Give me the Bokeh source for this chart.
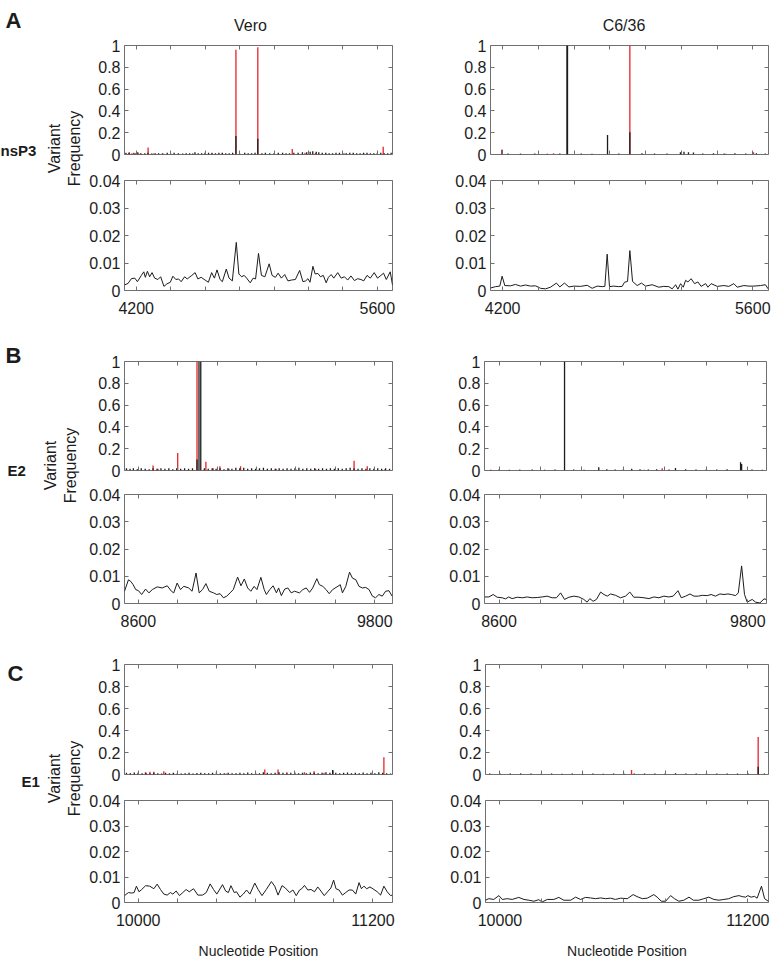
from bokeh.plotting import figure
from bokeh.models import Range1d, LinearAxis, FixedTicker, CustomJSTickFormatter, Label
from bokeh.layouts import row, column
from bokeh.embed import file_html
from bokeh.resources import INLINE
import math

FONT = "Liberation Sans"
FRAME_COLOR = "#707070"
INK = "#1c1c1c"
RED = "#e3242b"

# ---------------------------------------------------------------- data
cell_lines = ["Vero", "C6/36"]
gene_names = ["nsP3", "E2", "E1"]
panel_letters = ["A", "B", "C"]

top_yticks = [0, 0.2, 0.4, 0.6, 0.8, 1]
top_ylabels = ["0", "0.2", "0.4", "0.6", "0.8", "1"]
bottom_yticks = [0, 0.01, 0.02, 0.03, 0.04]
bottom_ylabels = ["0", "0.01", "0.02", "0.03", "0.04"]

# ---- nsP3 window
nsp3_window = [4132, 5688]
nsp3_xticks = [4200, 4400, 4600, 4800, 5000, 5200, 5400, 5600]
nsp3_xlabels = ["4200", "", "", "", "", "", "", "5600"]

vero_nsp3_red_pos = [4140, 4160, 4185, 4205, 4225, 4269, 4300, 4355, 4600, 4640, 4700, 4779, 4906, 5106, 5180, 5240, 5300, 5410, 5520, 5634]
vero_nsp3_red_freq = [0.015, 0.02, 0.015, 0.02, 0.012, 0.065, 0.01, 0.012, 0.01, 0.015, 0.012, 0.96, 0.985, 0.05, 0.015, 0.012, 0.012, 0.01, 0.012, 0.07]
vero_nsp3_black_pos = [4140, 4158, 4175, 4193, 4210, 4228, 4250, 4268, 4290, 4310, 4330, 4352, 4380, 4400, 4420, 4445, 4470, 4490, 4510, 4528,
                       4541, 4560, 4580, 4600, 4620, 4640, 4660, 4680, 4700, 4720, 4740, 4760, 4779, 4800, 4830, 4850, 4870, 4890, 4906, 4930,
                       4950, 4975, 5000, 5025, 5050, 5070, 5090, 5115, 5140, 5165, 5190, 5210, 5225, 5245, 5260, 5280, 5300, 5320, 5340, 5360,
                       5380, 5400, 5420, 5440, 5460, 5480, 5500, 5520, 5540, 5560, 5580, 5600, 5620, 5640, 5660, 5680]
vero_nsp3_black_freq = [0.012, 0.015, 0.01, 0.012, 0.018, 0.01, 0.012, 0.015, 0.01, 0.012, 0.012, 0.01, 0.015, 0.01, 0.015, 0.012, 0.01, 0.012, 0.012, 0.01,
                        0.02, 0.012, 0.012, 0.015, 0.015, 0.012, 0.012, 0.015, 0.015, 0.012, 0.012, 0.015, 0.17, 0.012, 0.015, 0.012, 0.012, 0.015, 0.145, 0.012,
                        0.015, 0.012, 0.012, 0.015, 0.015, 0.012, 0.012, 0.015, 0.015, 0.02, 0.02, 0.025, 0.03, 0.025, 0.02, 0.015, 0.015, 0.012, 0.012, 0.015,
                        0.015, 0.012, 0.012, 0.015, 0.015, 0.012, 0.012, 0.015, 0.015, 0.012, 0.012, 0.015, 0.015, 0.012, 0.012, 0.015]
vero_nsp3_smooth_pos = [4132, 4153, 4172, 4192, 4207, 4230, 4244, 4253, 4265, 4278, 4292, 4307, 4326, 4342, 4361, 4378, 4398, 4413, 4430, 4446,
                        4461, 4481, 4496, 4523, 4542, 4558, 4577, 4600, 4619, 4638, 4654, 4669, 4687, 4700, 4723, 4739, 4758, 4781, 4796, 4812,
                        4827, 4841, 4862, 4879, 4893, 4910, 4927, 4947, 4972, 4989, 5008, 5024, 5043, 5062, 5081, 5101, 5124, 5149, 5168, 5184,
                        5197, 5209, 5226, 5239, 5255, 5270, 5286, 5303, 5316, 5332, 5347, 5370, 5390, 5409, 5428, 5447, 5467, 5486, 5505, 5521,
                        5540, 5559, 5582, 5601, 5621, 5636, 5652, 5675, 5688]
vero_nsp3_smooth_freq = [0.0020, 0.0026, 0.0043, 0.0045, 0.0032, 0.0055, 0.0068, 0.0048, 0.0070, 0.0050, 0.0065, 0.0045, 0.0040, 0.0050, 0.0015, 0.0024, 0.0030, 0.0052, 0.0040, 0.0042,
                         0.0032, 0.0050, 0.0042, 0.0055, 0.0065, 0.0042, 0.0048, 0.0038, 0.0030, 0.0065, 0.0045, 0.0075, 0.0040, 0.0032, 0.0078, 0.0045, 0.0035, 0.0175, 0.0060, 0.0050,
                         0.0055, 0.0045, 0.0028, 0.0045, 0.0042, 0.0135, 0.0055, 0.0050, 0.0097, 0.0055, 0.0048, 0.0063, 0.0045, 0.0058, 0.0035, 0.0038, 0.0040, 0.0073, 0.0032, 0.0035,
                         0.0043, 0.0030, 0.0088, 0.0060, 0.0062, 0.0050, 0.0055, 0.0028, 0.0048, 0.0058, 0.0045, 0.0065, 0.0045, 0.0050, 0.0038, 0.0053, 0.0036, 0.0043, 0.0040, 0.0035,
                         0.0055, 0.0045, 0.0065, 0.0045, 0.0055, 0.0063, 0.0040, 0.0068, 0.0020]

c636_nsp3_red_pos = [4197, 4300, 4485, 4912, 5450, 5604]
c636_nsp3_red_freq = [0.045, 0.008, 0.012, 1.0, 0.008, 0.02]
c636_nsp3_black_pos = [4197, 4230, 4300, 4380, 4450, 4520, 4560, 4563, 4640, 4700, 4787, 4850, 4912, 4980, 5050, 5120, 5195, 5215, 5240, 5268,
                       5320, 5380, 5440, 5500, 5560, 5620, 5670]
c636_nsp3_black_freq = [0.04, 0.01, 0.008, 0.01, 0.008, 0.01, 1.0, 1.0, 0.01, 0.008, 0.18, 0.01, 0.205, 0.012, 0.01, 0.01, 0.02, 0.025, 0.02, 0.018,
                        0.01, 0.012, 0.01, 0.012, 0.01, 0.012, 0.01]
c636_nsp3_smooth_pos = [4132, 4160, 4184, 4197, 4212, 4244, 4272, 4300, 4328, 4356, 4384, 4412, 4440, 4468, 4501, 4520, 4546, 4571, 4599, 4636,
                        4673, 4701, 4729, 4757, 4772, 4785, 4798, 4822, 4850, 4869, 4882, 4899, 4912, 4927, 4953, 4977, 5000, 5037, 5074, 5102,
                        5130, 5149, 5168, 5181, 5196, 5211, 5224, 5237, 5255, 5274, 5293, 5311, 5336, 5349, 5367, 5401, 5438, 5466, 5494, 5513,
                        5550, 5578, 5606, 5643, 5671, 5686]
c636_nsp3_smooth_freq = [0.0009, 0.0014, 0.0016, 0.0052, 0.0018, 0.0017, 0.0022, 0.0016, 0.0020, 0.0016, 0.0017, 0.0008, 0.0006, 0.0012, 0.0027, 0.0013, 0.0027, 0.0013, 0.0016, 0.0015,
                         0.0019, 0.0008, 0.0016, 0.0014, 0.0015, 0.0132, 0.0014, 0.0016, 0.0014, 0.0015, 0.0030, 0.0033, 0.0145, 0.0033, 0.0018, 0.0027, 0.0016, 0.0021, 0.0012, 0.0015,
                         0.0014, 0.0006, 0.0021, 0.0005, 0.0025, 0.0012, 0.0037, 0.0031, 0.0043, 0.0025, 0.0031, 0.0015, 0.0025, 0.0012, 0.0025, 0.0015, 0.0018, 0.0015, 0.0025, 0.0012,
                         0.0018, 0.0016, 0.0016, 0.0018, 0.0021, 0.0006]

# ---- E2 window
e2_window = [8530, 9890]
e2_xticks = [8600, 8800, 9000, 9200, 9400, 9600, 9800]
e2_xlabels = ["8600", "", "", "", "", "", "9800"]

vero_e2_red_pos = [8540, 8600, 8675, 8700, 8800, 8898, 8943, 8980, 9014, 9060, 9119, 9200, 9300, 9400, 9500, 9600, 9695, 9762, 9850]
vero_e2_red_freq = [0.01, 0.012, 0.045, 0.015, 0.16, 1.0, 0.08, 0.02, 0.04, 0.015, 0.04, 0.012, 0.015, 0.012, 0.015, 0.012, 0.09, 0.04, 0.01]
vero_e2_black_pos = [8540, 8558, 8575, 8595, 8615, 8635, 8655, 8675, 8695, 8715, 8735, 8755, 8775, 8795, 8815, 8835, 8855, 8875, 8898, 8908,
                     8917, 8935, 8955, 8975, 8995, 9015, 9035, 9055, 9075, 9095, 9115, 9135, 9155, 9175, 9195, 9215, 9235, 9255, 9275, 9295,
                     9315, 9335, 9355, 9375, 9395, 9415, 9435, 9455, 9475, 9495, 9515, 9535, 9555, 9575, 9595, 9615, 9635, 9655, 9675, 9695,
                     9715, 9735, 9755, 9775, 9795, 9815, 9835, 9855, 9875]
vero_e2_black_freq = [0.02, 0.015, 0.02, 0.012, 0.02, 0.015, 0.012, 0.02, 0.015, 0.02, 0.015, 0.02, 0.012, 0.02, 0.015, 0.02, 0.015, 0.02, 0.1, 1.0,
                      1.0, 0.02, 0.015, 0.02, 0.015, 0.02, 0.012, 0.02, 0.015, 0.025, 0.02, 0.025, 0.015, 0.02, 0.015, 0.02, 0.025, 0.015, 0.02, 0.015,
                      0.02, 0.015, 0.02, 0.015, 0.02, 0.025, 0.015, 0.02, 0.015, 0.02, 0.015, 0.02, 0.015, 0.02, 0.015, 0.02, 0.015, 0.02, 0.025, 0.02,
                      0.015, 0.02, 0.015, 0.02, 0.015, 0.02, 0.015, 0.02, 0.015]
vero_e2_smooth_pos = [8530, 8550, 8562, 8574, 8587, 8601, 8617, 8637, 8654, 8671, 8696, 8721, 8747, 8768, 8780, 8797, 8814, 8831, 8856, 8873,
                      8893, 8909, 8926, 8943, 8960, 8982, 8998, 9015, 9032, 9049, 9066, 9082, 9104, 9121, 9138, 9155, 9171, 9188, 9202, 9222,
                      9239, 9250, 9267, 9284, 9301, 9312, 9326, 9343, 9359, 9376, 9393, 9418, 9435, 9452, 9469, 9485, 9506, 9519, 9536, 9553,
                      9569, 9586, 9608, 9625, 9636, 9653, 9672, 9687, 9704, 9720, 9737, 9754, 9771, 9788, 9804, 9821, 9838, 9855, 9872, 9888]
vero_e2_smooth_freq = [0.0045, 0.0087, 0.0081, 0.0069, 0.0051, 0.0047, 0.0033, 0.0053, 0.0039, 0.0051, 0.0061, 0.0057, 0.0065, 0.0045, 0.0039, 0.0075, 0.0051, 0.0063, 0.0057, 0.0045,
                       0.0112, 0.0039, 0.0051, 0.0073, 0.0045, 0.0039, 0.0033, 0.0036, 0.0021, 0.0027, 0.0039, 0.0051, 0.0097, 0.0065, 0.0090, 0.0057, 0.0045, 0.0063, 0.0051, 0.0096,
                       0.0051, 0.0033, 0.0051, 0.0065, 0.0039, 0.0057, 0.0029, 0.0053, 0.0057, 0.0039, 0.0045, 0.0039, 0.0051, 0.0057, 0.0041, 0.0057, 0.0091, 0.0069, 0.0063, 0.0051,
                       0.0036, 0.0051, 0.0061, 0.0069, 0.0039, 0.0063, 0.0115, 0.0093, 0.0087, 0.0063, 0.0057, 0.0059, 0.0051, 0.0027, 0.0021, 0.0033, 0.0027, 0.0045, 0.0047, 0.0027]

c636_e2_red_pos = [8700, 9300, 9387]
c636_e2_red_freq = [0.006, 0.008, 0.02]
c636_e2_black_pos = [8560, 8600, 8650, 8700, 8760, 8820, 8870, 8916, 8960, 9010, 9081, 9120, 9160, 9200, 9240, 9280, 9320, 9360, 9420, 9451,
                     9500, 9550, 9600, 9650, 9700, 9765, 9770, 9820, 9870]
c636_e2_black_freq = [0.008, 0.01, 0.008, 0.008, 0.01, 0.008, 0.01, 1.0, 0.01, 0.008, 0.03, 0.012, 0.01, 0.012, 0.015, 0.012, 0.01, 0.012, 0.01, 0.022,
                      0.012, 0.01, 0.012, 0.01, 0.012, 0.075, 0.06, 0.01, 0.008]
c636_e2_smooth_pos = [8532, 8551, 8572, 8591, 8615, 8631, 8647, 8663, 8688, 8712, 8736, 8760, 8784, 8808, 8832, 8856, 8877, 8897, 8916, 8937,
                      8961, 8985, 9009, 9025, 9038, 9054, 9070, 9090, 9106, 9122, 9138, 9162, 9186, 9210, 9231, 9250, 9275, 9299, 9323, 9347,
                      9371, 9395, 9419, 9440, 9463, 9479, 9500, 9521, 9540, 9561, 9580, 9604, 9623, 9644, 9665, 9685, 9704, 9720, 9741, 9754,
                      9770, 9784, 9797, 9821, 9837, 9858, 9878, 9889]
c636_e2_smooth_freq = [0.0024, 0.0024, 0.0033, 0.0023, 0.0021, 0.0017, 0.0024, 0.0018, 0.0023, 0.0021, 0.0024, 0.0021, 0.0022, 0.0024, 0.0027, 0.0021, 0.0021, 0.0039, 0.0015, 0.0023,
                       0.0027, 0.0024, 0.0015, 0.0005, 0.0018, 0.0008, 0.0015, 0.0042, 0.0033, 0.0027, 0.0035, 0.0030, 0.0021, 0.0027, 0.0042, 0.0023, 0.0023, 0.0021, 0.0018, 0.0024,
                       0.0021, 0.0027, 0.0024, 0.0027, 0.0047, 0.0021, 0.0027, 0.0035, 0.0027, 0.0027, 0.0030, 0.0029, 0.0033, 0.0027, 0.0035, 0.0033, 0.0035, 0.0033, 0.0029, 0.0039,
                       0.0138, 0.0033, 0.0005, 0.0015, 0.0005, 0.0002, 0.0017, 0.0015]

# ---- E1 window
e1_window = [9930, 11300]
e1_xticks = [10000, 10200, 10400, 10600, 10800, 11000, 11200]
e1_xlabels = ["10000", "", "", "", "", "", "11200"]

vero_e1_red_pos = [9960, 10000, 10037, 10060, 10080, 10131, 10180, 10300, 10450, 10647, 10715, 10760, 10800, 10850, 10899, 10950, 11050, 11256]
vero_e1_red_freq = [0.01, 0.015, 0.02, 0.025, 0.025, 0.03, 0.012, 0.01, 0.01, 0.045, 0.045, 0.02, 0.015, 0.02, 0.03, 0.015, 0.01, 0.157]
vero_e1_black_pos = [9940, 9960, 9980, 10000, 10020, 10040, 10060, 10080, 10100, 10120, 10140, 10160, 10180, 10200, 10220, 10240, 10260, 10280, 10300, 10320,
                     10340, 10360, 10380, 10400, 10420, 10440, 10460, 10480, 10500, 10520, 10540, 10560, 10580, 10600, 10620, 10640, 10660, 10680, 10700, 10720,
                     10740, 10760, 10780, 10800, 10820, 10840, 10860, 10880, 10900, 10920, 10940, 10960, 10980, 10994, 11010, 11030, 11050, 11070, 11090, 11110,
                     11130, 11150, 11170, 11190, 11210, 11230, 11250, 11270, 11290]
vero_e1_black_freq = [0.015, 0.012, 0.018, 0.015, 0.012, 0.015, 0.012, 0.015, 0.012, 0.01, 0.015, 0.012, 0.015, 0.012, 0.01, 0.012, 0.015, 0.01, 0.012, 0.015,
                      0.012, 0.012, 0.015, 0.02, 0.012, 0.012, 0.015, 0.012, 0.012, 0.015, 0.012, 0.018, 0.012, 0.015, 0.012, 0.02, 0.015, 0.012, 0.015, 0.02,
                      0.015, 0.012, 0.015, 0.018, 0.012, 0.015, 0.012, 0.018, 0.015, 0.012, 0.015, 0.02, 0.015, 0.04, 0.015, 0.012, 0.015, 0.018, 0.012, 0.015,
                      0.012, 0.018, 0.012, 0.015, 0.012, 0.02, 0.015, 0.012, 0.01]
vero_e1_smooth_pos = [9930, 9950, 9967, 9979, 9991, 10004, 10018, 10038, 10059, 10080, 10097, 10114, 10131, 10148, 10165, 10177, 10194, 10211, 10228, 10245,
                      10261, 10283, 10305, 10329, 10348, 10368, 10385, 10402, 10431, 10447, 10461, 10474, 10491, 10503, 10520, 10537, 10554, 10571, 10596, 10613,
                      10633, 10655, 10681, 10698, 10715, 10735, 10752, 10774, 10791, 10808, 10825, 10836, 10850, 10867, 10884, 10901, 10918, 10934, 10951, 10968,
                      10985, 10999, 11011, 11027, 11044, 11061, 11078, 11095, 11112, 11129, 11141, 11154, 11168, 11185, 11205, 11222, 11239, 11256, 11273, 11290,
                      11298]
vero_e1_smooth_freq = [0.0027, 0.0039, 0.0037, 0.0039, 0.0064, 0.0042, 0.0051, 0.0066, 0.0064, 0.0054, 0.0072, 0.0051, 0.0033, 0.0029, 0.0039, 0.0033, 0.0045, 0.0027, 0.0039, 0.0051,
                       0.0042, 0.0054, 0.0029, 0.0029, 0.0039, 0.0073, 0.0051, 0.0033, 0.0070, 0.0045, 0.0039, 0.0066, 0.0039, 0.0042, 0.0021, 0.0033, 0.0049, 0.0033, 0.0076, 0.0051,
                       0.0027, 0.0051, 0.0082, 0.0064, 0.0029, 0.0066, 0.0057, 0.0039, 0.0049, 0.0027, 0.0049, 0.0054, 0.0067, 0.0049, 0.0051, 0.0042, 0.0061, 0.0045, 0.0027, 0.0042,
                       0.0057, 0.0088, 0.0054, 0.0049, 0.0029, 0.0039, 0.0049, 0.0049, 0.0033, 0.0078, 0.0054, 0.0064, 0.0054, 0.0061, 0.0051, 0.0042, 0.0029, 0.0064, 0.0042, 0.0027,
                       0.0029]

c636_e1_red_pos = [10100, 10300, 10637, 11200, 11250]
c636_e1_red_freq = [0.006, 0.005, 0.04, 0.005, 0.34]
c636_e1_black_pos = [9950, 10000, 10050, 10100, 10150, 10200, 10250, 10300, 10350, 10400, 10450, 10500, 10550, 10600, 10650, 10700, 10750, 10800, 10850, 10900,
                     10950, 11000, 11050, 11100, 11150, 11200, 11250, 11280]
c636_e1_black_freq = [0.008, 0.01, 0.008, 0.01, 0.008, 0.006, 0.008, 0.006, 0.008, 0.006, 0.008, 0.006, 0.008, 0.01, 0.008, 0.01, 0.008, 0.01, 0.012, 0.008,
                      0.01, 0.008, 0.01, 0.008, 0.01, 0.012, 0.07, 0.008]
c636_e1_smooth_pos = [9930, 9946, 9970, 9995, 10011, 10035, 10059, 10091, 10116, 10140, 10164, 10188, 10204, 10229, 10261, 10285, 10309, 10342, 10366, 10390,
                      10414, 10438, 10463, 10487, 10511, 10535, 10559, 10584, 10616, 10645, 10664, 10689, 10713, 10745, 10761, 10781, 10802, 10826, 10845, 10866,
                      10890, 10915, 10936, 10963, 10987, 11011, 11036, 11060, 11084, 11108, 11132, 11157, 11173, 11189, 11200, 11216, 11232, 11245, 11266, 11281,
                      11299]
c636_e1_smooth_freq = [0.0009, 0.0015, 0.0012, 0.0027, 0.0012, 0.0015, 0.0012, 0.0020, 0.0012, 0.0009, 0.0005, 0.0011, 0.0002, 0.0012, 0.0012, 0.0020, 0.0009, 0.0009, 0.0021, 0.0012,
                       0.0020, 0.0018, 0.0015, 0.0018, 0.0015, 0.0017, 0.0012, 0.0017, 0.0015, 0.0031, 0.0023, 0.0015, 0.0017, 0.0031, 0.0021, 0.0005, 0.0005, 0.0027, 0.0015, 0.0005,
                       0.0009, 0.0021, 0.0009, 0.0009, 0.0015, 0.0021, 0.0012, 0.0009, 0.0012, 0.0015, 0.0023, 0.0027, 0.0023, 0.0021, 0.0027, 0.0021, 0.0024, 0.0017, 0.0064, 0.0015,
                       0.0005]

# ---------------------------------------------------------------- helpers
def style_axis(ax):
    ax.axis_line_color = None
    ax.major_tick_line_color = FRAME_COLOR
    ax.major_tick_line_width = 1
    ax.major_tick_in = 4
    ax.major_tick_out = 0
    ax.minor_tick_line_color = None
    ax.major_label_text_font = FONT
    ax.major_label_text_font_size = "16px"
    ax.major_label_text_color = INK


def blank_axis(ticks):
    ax = LinearAxis(ticker=FixedTicker(ticks=ticks),
                    formatter=CustomJSTickFormatter(code="return ''"))
    style_axis(ax)
    ax.major_label_text_font_size = "0px"
    ax.major_label_standoff = 0
    return ax


def make_panel(x_window, x_ticks, x_labels, y_ticks, y_labels, frame_w, frame_h,
               b_left, b_right, b_top, b_bottom, show_x_labels, x_title=None):
    p = figure(width=b_left + frame_w + b_right, height=b_top + frame_h + b_bottom,
               x_range=Range1d(x_window[0], x_window[1]),
               y_range=Range1d(y_ticks[0], y_ticks[-1]),
               x_axis_location=None, y_axis_location=None, toolbar_location=None,
               output_backend="svg",
               min_border_left=b_left, min_border_right=b_right,
               min_border_top=b_top, min_border_bottom=b_bottom)
    p.outline_line_color = FRAME_COLOR
    p.outline_line_width = 1
    p.xgrid.visible = False
    p.ygrid.visible = False
    p.background_fill_color = "white"
    p.border_fill_color = "white"

    left = LinearAxis(ticker=FixedTicker(ticks=y_ticks),
                      major_label_overrides=dict(zip(y_ticks, y_labels)))
    style_axis(left)
    left.major_label_standoff = 4
    p.add_layout(left, "left")
    p.add_layout(blank_axis(y_ticks), "right")
    p.add_layout(blank_axis(x_ticks), "above")
    if show_x_labels:
        below = LinearAxis(ticker=FixedTicker(ticks=x_ticks),
                           major_label_overrides=dict(zip(x_ticks, x_labels)))
        style_axis(below)
        below.major_label_standoff = 11
        if x_title:
            below.axis_label = x_title
            below.axis_label_text_font = FONT
            below.axis_label_text_font_size = "14px"
            below.axis_label_text_font_style = "normal"
            below.axis_label_text_color = INK
            below.axis_label_standoff = 14
        p.add_layout(below, "below")
    else:
        p.add_layout(blank_axis(x_ticks), "below")
    return p


def add_spikes(p, red_pos, red_freq, black_pos, black_freq):
    p.segment(x0=red_pos, y0=0, x1=red_pos, y1=red_freq, line_color=RED, line_width=1.3)
    p.segment(x0=black_pos, y0=0, x1=black_pos, y1=black_freq, line_color=INK, line_width=1.3)


def add_smooth(p, pos, freq):
    p.line(pos, freq, line_color=INK, line_width=1)


def text_canvas(width, height):
    """A figure whose frame is the whole canvas; data units are pixels from the top-left."""
    p = figure(width=width, height=height, x_range=Range1d(0, width), y_range=Range1d(height, 0),
               x_axis_location=None, y_axis_location=None, toolbar_location=None,
               output_backend="svg", min_border=0)
    p.outline_line_color = None
    p.xgrid.visible = False
    p.ygrid.visible = False
    return p


def add_letter(p, letter, x, y):
    p.add_layout(Label(x=x, y=y, text=letter, text_font=FONT, text_font_size="22px",
                       text_font_style="bold", text_color=INK, text_align="left",
                       text_baseline="alphabetic"))


LABEL_W = 86
TOTAL_W = 771
HEADER_H = 39


def make_label_column(height, letter, letter_x, letter_y, gene, gene_x, gene_y, ylab_x, ylab_y):
    p = text_canvas(LABEL_W, height)
    if letter is not None:
        add_letter(p, letter, letter_x, letter_y)
    p.add_layout(Label(x=gene_x, y=gene_y, text=gene, text_font=FONT, text_font_size="15px",
                       text_font_style="bold", text_color=INK, text_align="left",
                       text_baseline="middle"))
    for dx, word in zip([0, 20], ["Variant", "Frequency"]):
        p.add_layout(Label(x=ylab_x + dx, y=ylab_y, text=word, angle=math.pi / 2,
                           text_font=FONT, text_font_size="16px", text_color=INK,
                           text_align="center", text_baseline="middle"))
    return p


# ---------------------------------------------------------------- layout
LEFT_FW = 270
LEFT_BL, LEFT_BR = 36, 6
ROW_RIGHT = {"A": (92, 278, 3), "B": (86, 282, 5), "C": (87, 283, 3)}
ROW_V = {  # (top fig: b_top, frame_h, b_bottom), (bottom fig: b_top, frame_h, b_bottom)
    "A": ((45 - HEADER_H, 109, 13), (13, 110, 36)),
    "B": ((35, 109, 12), (12, 109, 34)),
    "C": ((27, 110, 13), (13, 109, 52)),
}
LABEL_POS = {  # letter x, letter baseline, gene x, gene y, ylabel x, ylabel y (group-relative)
    "A": (None, None, 0, 150 - HEADER_H, 54, 148 - HEADER_H),
    "B": (5, 29, 7, 144, 50, 139),
    "C": (7, 36, 21, 144, 54, 141),
}
TITLE_X = [250, 623.5]   # centres of the column titles
TITLE_Y = 25

windows = {"A": (nsp3_window, nsp3_xticks, nsp3_xlabels),
           "B": (e2_window, e2_xticks, e2_xlabels),
           "C": (e1_window, e1_xticks, e1_xlabels)}
series = {
    "A": [(vero_nsp3_red_pos, vero_nsp3_red_freq, vero_nsp3_black_pos, vero_nsp3_black_freq, vero_nsp3_smooth_pos, vero_nsp3_smooth_freq),
          (c636_nsp3_red_pos, c636_nsp3_red_freq, c636_nsp3_black_pos, c636_nsp3_black_freq, c636_nsp3_smooth_pos, c636_nsp3_smooth_freq)],
    "B": [(vero_e2_red_pos, vero_e2_red_freq, vero_e2_black_pos, vero_e2_black_freq, vero_e2_smooth_pos, vero_e2_smooth_freq),
          (c636_e2_red_pos, c636_e2_red_freq, c636_e2_black_pos, c636_e2_black_freq, c636_e2_smooth_pos, c636_e2_smooth_freq)],
    "C": [(vero_e1_red_pos, vero_e1_red_freq, vero_e1_black_pos, vero_e1_black_freq, vero_e1_smooth_pos, vero_e1_smooth_freq),
          (c636_e1_red_pos, c636_e1_red_freq, c636_e1_black_pos, c636_e1_black_freq, c636_e1_smooth_pos, c636_e1_smooth_freq)],
}

# header: panel letter A and the two cell-line titles
header = text_canvas(TOTAL_W, HEADER_H)
add_letter(header, "A", 5, 20)
for tx, name in zip(TITLE_X, cell_lines):
    header.add_layout(Label(x=tx, y=TITLE_Y, text=name, text_font=FONT, text_font_size="16px",
                            text_color=INK, text_align="center", text_baseline="middle"))

groups = [header]
for letter, gene in zip(panel_letters, gene_names):
    win, xt, xl = windows[letter]
    (tbt, tfh, tbb), (bbt, bfh, bbb) = ROW_V[letter]
    rbl, rfw, rbr = ROW_RIGHT[letter]
    cols = []
    for ci, (bl, fw, br) in enumerate([(LEFT_BL, LEFT_FW, LEFT_BR), (rbl, rfw, rbr)]):
        rp, rf, kp, kf, sp, sf = series[letter][ci]
        top = make_panel(win, xt, xl, top_yticks, top_ylabels, fw, tfh, bl,
                         br, tbt, tbb, False)
        add_spikes(top, rp, rf, kp, kf)
        bot = make_panel(win, xt, xl, bottom_yticks, bottom_ylabels, fw, bfh, bl, br,
                         bbt, bbb, True,
                         x_title="Nucleotide Position" if letter == "C" else None)
        add_smooth(bot, sp, sf)
        cols.append(column(top, bot))
    gh = tbt + tfh + tbb + bbt + bfh + bbb
    lx, ly, gx, gy, vx, vy = LABEL_POS[letter]
    lab = make_label_column(gh, letter if lx is not None else None, lx, ly, gene, gx, gy, vx, vy)
    groups.append(row(lab, cols[0], cols[1]))

page = column(*groups)

with open("out.html", "w") as f:
    f.write(file_html(page, INLINE, title="Variant frequency"))
